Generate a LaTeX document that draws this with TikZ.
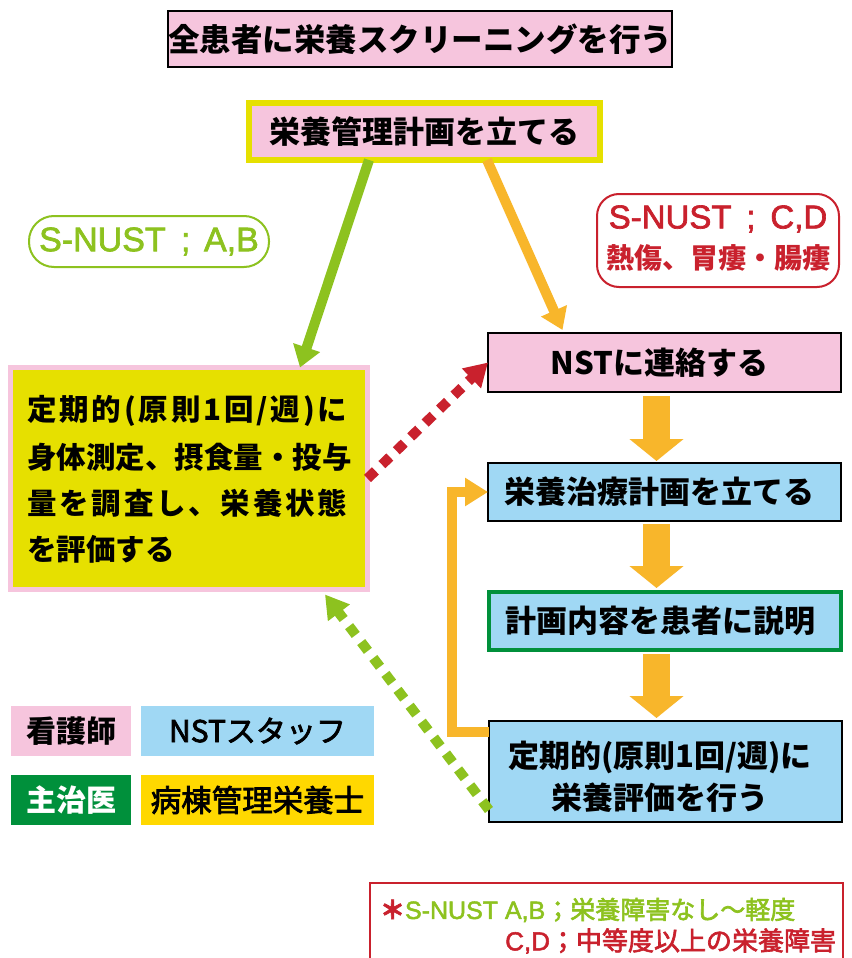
\documentclass[tikz,border=0pt]{standalone}
\usepackage{fontspec}
\setmainfont{Noto Sans CJK JP}
\newfontfamily\lat[FakeBold=2]{Liberation Sans}
\newfontfamily\medj[FakeBold=2.5]{Noto Sans CJK JP}
\usetikzlibrary{arrows.meta,calc}
\definecolor{pinkf}{HTML}{F6C5DD}
\definecolor{yelb}{HTML}{E6E000}
\definecolor{grn}{HTML}{8DC21F}
\definecolor{org}{HTML}{F8B62B}
\definecolor{redc}{HTML}{C9212D}
\definecolor{blu}{HTML}{A0D8F4}
\definecolor{dgrn}{HTML}{00903B}
\definecolor{yeltwo}{HTML}{FFD800}
\newcommand\FS[1]{\fontsize{#1}{#1}\selectfont}
\begin{document}
\begin{tikzpicture}[x=1pt,y=-1pt,
  box/.style={draw, line width=2.5pt, inner sep=0pt, outer sep=0pt},
  flat/.style={inner sep=0pt, outer sep=0pt},
  bold31/.style={font=\FS{31}\bfseries},
  legtext/.style={font=\FS{30}\bfseries},
  thickarrow/.style={line width=10pt, line cap=butt, -{Triangle[length=21pt,width=27pt]}},
  dotarrow/.style={line width=10pt, line cap=butt, dash pattern=on 11pt off 9pt, -{Triangle[length=23pt,width=26pt]}},
  blockarrow/.style={draw=org, line width=27pt, line cap=butt, -{Triangle[length=22pt,width=53pt]}},
  lefttext/.style={anchor=west, inner sep=0pt, font=\FS{29.5}\bfseries}
]
\useasboundingbox (0,0) rectangle (851,958);
\clip (0,0) rectangle (851,958);
\fill[white] (0,0) rectangle (851,958);

% top boxes
\node[box, fill=pinkf, minimum width=496pt, minimum height=56pt, font=\FS{31.5}\bfseries] (screen) at (420,39) {全患者に栄養スクリーニングを行う};
\node[box, draw=yelb, line width=6pt, fill=pinkf, minimum width=351pt, minimum height=57pt, bold31] (plan) at (424.5,131.5) {栄養管理計画を立てる};

% S-NUST labels
\node[flat, draw=grn, line width=2pt, rounded corners=25pt, minimum width=240pt, minimum height=51pt, text=grn, font=\lat\FS{34}] (ab) at (149,241.5) {S-NUST\hspace{0.45em};\hspace{0.4em}A,B};
\node[flat, draw=redc, line width=2pt, rounded corners=22pt, minimum width=242pt, minimum height=93pt] (cd) at (718,240.5) {};
\node[flat, text=redc, font=\lat\FS{33}] (cdone) at (718,219) {S-NUST\hspace{0.45em};\hspace{0.45em}C,D};
\node[flat, text=redc, font=\FS{28}\bfseries] (cdtwo) at (718,258) {熱傷、胃瘻・腸瘻};

% left box
\node[flat, draw=pinkf, line width=5pt, fill=yelb, minimum width=357pt, minimum height=222pt] (left) at (189,478.5) {};
\node[lefttext] (lone) at (27,411) {\makebox[320pt][s]{定\hfill 期\hfill 的\hfill (\hfill 原\hfill 則\hfill 1\hfill 回\hfill /\hfill 週\hfill )\hfill に}};
\node[lefttext] (ltwo) at (27,457) {\makebox[320pt][s]{身体測定、摂食量・投与}};
\node[lefttext] (lthree) at (27,503) {\makebox[320pt][s]{量\hfill を\hfill 調\hfill 査\hfill し\hfill 、\hfill 栄\hfill 養\hfill 状\hfill 態}};
\node[lefttext] (lfour) at (27,549) {を評価する};

% right column
\node[box, fill=pinkf, minimum width=353pt, minimum height=59pt, bold31] (nst) at (664.5,362.5) {\hspace{-10pt}NSTに連絡する};
\node[box, fill=blu, minimum width=353pt, minimum height=58pt, bold31] (treat) at (664.5,492) {\hspace{-10pt}栄養治療計画を立てる};
\node[box, draw=dgrn, line width=4.5pt, fill=blu, minimum width=352pt, minimum height=58pt, bold31] (expl) at (665,621) {\hspace{-10pt}計画内容を患者に説明};
\node[box, fill=blu, minimum width=353pt, minimum height=101pt] (eval) at (665.5,771.5) {};
\node[flat, align=center, font={\fontsize{31}{42}\selectfont\bfseries}] (evaltext) at (660,777) {定期的(原則1回/週)に\\栄養評価を行う};

% legend
\node[flat, fill=pinkf, minimum width=120pt, minimum height=50pt, legtext] (lgone) at (71,731) {看護師};
\node[flat, fill=blu, minimum width=233pt, minimum height=50pt, font=\medj\FS{30}] (lgtwo) at (257.5,731) {NSTスタッフ};
\node[flat, fill=dgrn, minimum width=120pt, minimum height=50pt, legtext, text=white] (lgthree) at (71,800) {主治医};
\node[flat, fill=yeltwo, minimum width=233pt, minimum height=50pt, font=\medj\FS{30.5}] (lgfour) at (257.5,800) {病棟管理栄養士};

% note
\node[flat, draw=redc, line width=2pt, minimum width=473pt, minimum height=84pt] (note) at (606.5,925) {};
\node[flat, anchor=west, font=\medj\FS{25}] (noteone) at (380,910) {\textcolor{redc}{\bfseries ＊}\textcolor{grn}{{\lat S-NUST A,B}；栄養障害なし～軽度}};
\node[flat, anchor=east, font=\medj\FS{26}, text=redc] (notetwo) at (836,941) {{\lat C,D}；中等度以上の栄養障害};

% connectors
\draw[thickarrow, draw=grn] ([xshift=-55.5pt]plan.south) -- ([xshift=111pt]left.north);
\draw[thickarrow, draw=org] ([xshift=62.5pt]plan.south) -- ([xshift=-102pt,yshift=3pt]nst.north);
\draw[dotarrow, draw=redc] (left.east) -- (nst.west);
\draw[dotarrow, draw=grn] ([yshift=-38.5pt]eval.west) -- ([xshift=136pt,yshift=-5pt]left.south);
\draw[blockarrow] ([xshift=-8pt,yshift=-4pt]nst.south) -- ([xshift=-8pt,yshift=2pt]treat.north);
\draw[blockarrow] ([xshift=-8pt,yshift=-3pt]treat.south) -- ([xshift=-8.5pt,yshift=4pt]expl.north);
\draw[blockarrow] ([xshift=-8.5pt,yshift=-4pt]expl.south) -- ([xshift=-9pt,yshift=3pt]eval.north);
\draw[draw=org, line width=10pt, line cap=butt, -{Triangle[length=23pt,width=27pt]}] ([yshift=39.5pt]eval.west) -- ++(-37,0) |- (treat.west);
\end{tikzpicture}
\end{document}
